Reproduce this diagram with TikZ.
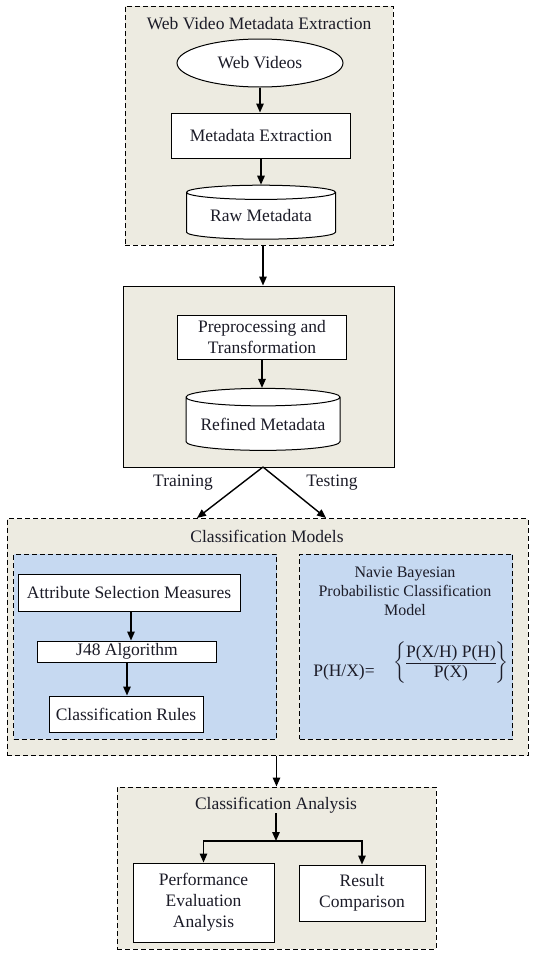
\documentclass[tikz,border=0pt]{standalone}
\usepackage{amsmath}
\usepackage{fontspec}
\setmainfont{Liberation Serif}
\usetikzlibrary{arrows.meta,positioning,shapes.geometric}
\definecolor{FlowBeige}{HTML}{EDEBE1}
\definecolor{FlowBlue}{HTML}{C6D9F1}
\definecolor{FlowInk}{HTML}{1C1C28}

\begin{document}
\begin{tikzpicture}[
    x=1pt,y=-1pt,
    every node/.style={font=\fontsize{17.5}{21}\selectfont,text=FlowInk,inner sep=0pt},
    groupbox/.style={draw,dash pattern=on 5pt off 3pt,fill=FlowBeige,line width=1pt},
    bluegroup/.style={draw,dash pattern=on 5pt off 3pt,fill=FlowBlue,line width=1pt},
    procbox/.style={draw,fill=white,line width=1pt,align=center},
    dbcyl/.style={cylinder,shape border rotate=90,aspect=0.14,draw,fill=white,line width=1pt},
    arr/.style={-{Triangle[length=9pt,width=7.5pt]},line width=1.4pt}
  ]
    \useasboundingbox (0,0) rectangle (534,956);

    % GROUP BOXES
    \node[groupbox,minimum width=268,minimum height=239] (grpA) at (259,125.5) {};
    \node[draw,fill=FlowBeige,line width=1pt,minimum width=271,minimum height=181] (grpB) at (258.5,376.5) {};
    \node[groupbox,minimum width=521,minimum height=237] (grpC) at (267.5,637) {};
    \node[bluegroup,minimum width=263,minimum height=185] (grpL) at (145,646.5) {};
    \node[bluegroup,minimum width=213,minimum height=185] (grpR) at (406,646.5) {};
    \node[groupbox,minimum width=319,minimum height=162] (grpD) at (276.5,868) {};

    % TITLES
    \node (ttlA) at (259,24) {Web Video Metadata Extraction};
    \node (ttlC) at (267,536.5) {Classification Models};
    \node (ttlD) at (276,805) {Classification Analysis};

    % EXTRACTION
    \node[ellipse,draw,fill=white,line width=1pt,minimum width=166,minimum height=48] (wv) at (260,63) {Web Videos};
    \node[procbox,minimum width=179,minimum height=45] (mx) at (261,135.5) {Metadata Extraction};
    \node[dbcyl,minimum width=149,minimum height=54] (raw) at (261,216) {Raw Metadata};

    % PREPROCESSING
    \node[procbox,minimum width=169,minimum height=44] (pre) at (262,337) {Preprocessing and\\Transformation};
    \node[dbcyl,minimum width=154,minimum height=62] (ref) at (263,424) {Refined Metadata};

    % MODELS
    \node[procbox,minimum width=222,minimum height=37] (asm) at (129,592.5) {Attribute Selection Measures};
    \node[procbox,minimum width=179,minimum height=21] (j48) at (127,651.5) {J48 Algorithm};
    \node[procbox,minimum width=154,minimum height=36] (rules) at (126,714) {Classification Rules};

    \node[align=center,font=\fontsize{16}{19}\selectfont] (nbm) at (405,591) {Navie Bayesian\\Probabilistic Classification\\Model};
    \node (lhs) at (344,672) {P(H/X)=};
    \node (rhs) at (451,663) {$\left\{\begin{tabular}{@{}c@{}}\underline{P(X/H) P(H)}\\[-2pt]P(X)\end{tabular}\right\}$};

    % ANALYSIS
    \node[procbox,minimum width=141,minimum height=79] (pea) at (203.5,902.5) {Performance\\Evaluation\\Analysis};
    \node[procbox,minimum width=126,minimum height=56] (rc) at (362,893) {Result\\Comparison};

    \coordinate (split) at (263,467);
    \coordinate (trn) at (197,518);
    \coordinate (tst) at (326,518);
    \coordinate (jn) at (276,841);

    % Arrows
    \draw[arr] (wv) -- (wv |- mx.north);
    \draw[arr] (mx) -- (mx |- raw.north);
    \draw[arr] (grpA.south -| split) -- (grpB.north -| split);
    \draw[arr] (pre) -- (pre |- ref.north);
    \draw[arr] (split) -- (trn);
    \draw[arr] (split) -- (tst);
    \draw[arr] (asm.south -| 131,0) -- (j48.north -| 131,0);
    \draw[arr] (j48) -- (j48 |- rules.north);
    \draw[arr] (grpC.south -| grpD.north) -- (grpD.north);
    \draw[arr] (ttlD) -- (jn);
    \draw[arr] (jn) -| (pea);
    \draw[arr] (jn) -| (rc);

    % Labels
    \node (lbtrn) at (183,483) {Training};
    \node (lbtst) at (332,483) {Testing};
  \end{tikzpicture}
\end{document}
